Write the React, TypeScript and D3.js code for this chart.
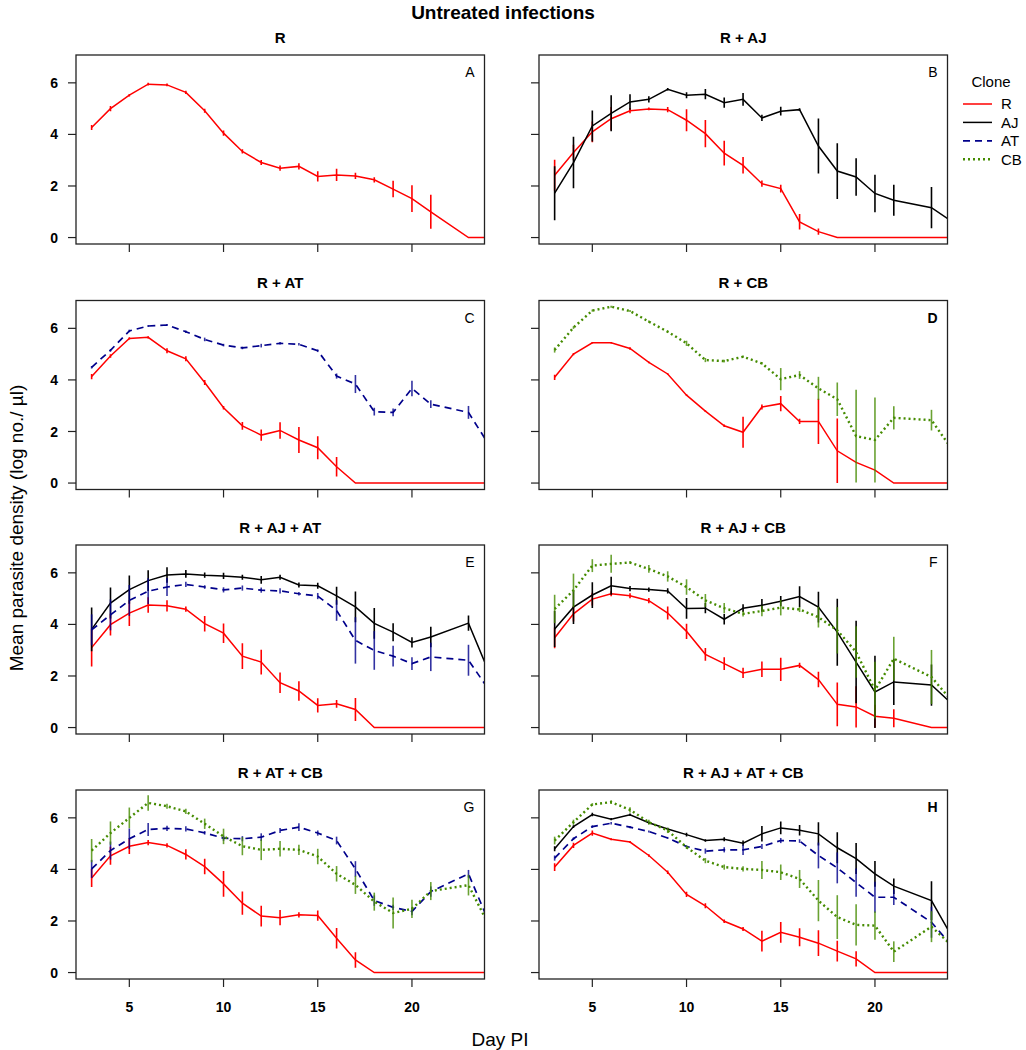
import React from "react";
import * as d3 from "d3";

// days post infection (no sample on day 22)
const days = [3, 4, 5, 6, 7, 8, 9, 10, 11, 12, 13, 14, 15, 16, 17, 18, 19, 20, 21, 23, 24];
const xTicks = [5, 10, 15, 20];
const yTicks = [0, 2, 4, 6];
const clones = ["R", "AJ", "AT", "CB"];

// A: R alone
const A_R = [4.27, 5.0, 5.52, 5.95, 5.92, 5.63, 4.92, 4.05, 3.34, 2.91, 2.69, 2.76, 2.37, 2.43, 2.39, 2.24, 1.88, 1.51, 1.0, 0, 0];
const A_R_se = [0.1, 0.1, 0.05, 0.05, 0.05, 0.06, 0.08, 0.1, 0.08, 0.1, 0.1, 0.12, 0.2, 0.24, 0.12, 0.1, 0.32, 0.52, 0.66, 0, 0];

// B: R + AJ
const B_R = [2.42, 3.3, 4.1, 4.61, 4.92, 4.99, 4.96, 4.55, 4.03, 3.27, 2.8, 2.09, 1.9, 0.61, 0.23, 0, 0, 0, 0, 0, 0];
const B_R_se = [0.6, 0.3, 0.4, 0.45, 0.1, 0.05, 0.1, 0.43, 0.53, 0.48, 0.32, 0.12, 0.15, 0.3, 0.12, 0, 0, 0, 0, 0, 0];
const B_AJ = [1.72, 2.91, 4.33, 4.82, 5.26, 5.36, 5.75, 5.52, 5.56, 5.23, 5.36, 4.64, 4.9, 4.96, 3.55, 2.58, 2.35, 1.71, 1.45, 1.16, 0.66];
const B_AJ_se = [1.05, 1.0, 0.6, 0.7, 0.3, 0.12, 0.05, 0.12, 0.2, 0.2, 0.25, 0.12, 0.17, 0.05, 1.07, 1.08, 0.73, 0.73, 0.6, 0.8, 0];

// C: R + AT
const C_R = [4.13, 4.93, 5.61, 5.65, 5.13, 4.82, 3.9, 2.92, 2.22, 1.86, 2.04, 1.67, 1.37, 0.63, 0, 0, 0, 0, 0, 0, 0];
const C_R_se = [0.1, 0.07, 0.04, 0.04, 0.1, 0.1, 0.1, 0.07, 0.15, 0.22, 0.32, 0.5, 0.45, 0.38, 0, 0, 0, 0, 0, 0, 0];
const C_AT = [4.49, 5.15, 5.9, 6.09, 6.13, 5.87, 5.57, 5.35, 5.24, 5.33, 5.42, 5.38, 5.13, 4.15, 3.84, 2.77, 2.74, 3.67, 3.06, 2.74, 1.58];
const C_AT_se = [0.05, 0.05, 0.05, 0.04, 0.04, 0.05, 0.07, 0.05, 0.05, 0.07, 0.05, 0.05, 0.05, 0.1, 0.35, 0.15, 0.15, 0.3, 0.15, 0.25, 0];

// D: R + CB
const D_R = [4.1, 5.0, 5.44, 5.44, 5.22, 4.68, 4.23, 3.41, 2.79, 2.22, 1.97, 2.95, 3.08, 2.39, 2.39, 1.25, 0.8, 0.5, 0, 0, 0];
const D_R_se = [0.1, 0.04, 0.03, 0.03, 0.05, 0.03, 0.03, 0.03, 0.03, 0.05, 0.6, 0.1, 0.3, 0.1, 0.88, 1.25, 0, 0, 0, 0, 0];
const D_CB = [5.16, 6.03, 6.69, 6.84, 6.67, 6.26, 5.87, 5.42, 4.77, 4.73, 4.9, 4.64, 4.03, 4.19, 3.67, 3.25, 1.82, 1.67, 2.53, 2.44, 1.4];
const D_CB_se = [0.1, 0.05, 0.04, 0.04, 0.04, 0.04, 0.04, 0.1, 0.08, 0.05, 0.04, 0.04, 0.43, 0.15, 0.45, 0.65, 1.8, 1.65, 0.45, 0.4, 0];

// E: R + AJ + AT
const E_R = [3.1, 3.99, 4.44, 4.75, 4.72, 4.59, 4.03, 3.66, 2.77, 2.54, 1.74, 1.42, 0.86, 0.92, 0.7, 0, 0, 0, 0, 0, 0];
const E_R_se = [0.73, 0.42, 0.5, 0.3, 0.22, 0.1, 0.3, 0.38, 0.5, 0.48, 0.4, 0.38, 0.28, 0.15, 0.45, 0, 0, 0, 0, 0, 0];
const E_AJ = [3.81, 4.83, 5.35, 5.7, 5.92, 5.96, 5.91, 5.88, 5.83, 5.73, 5.83, 5.53, 5.5, 5.11, 4.68, 4.04, 3.7, 3.3, 3.51, 4.05, 2.3];
const E_AJ_se = [0.85, 0.6, 0.55, 0.4, 0.3, 0.15, 0.1, 0.12, 0.1, 0.15, 0.1, 0.1, 0.12, 0.35, 0.6, 0.6, 0.35, 0.2, 0.4, 0.3, 0];
const E_AT = [3.79, 4.37, 4.93, 5.29, 5.45, 5.55, 5.45, 5.34, 5.41, 5.33, 5.3, 5.19, 5.1, 4.54, 3.38, 2.99, 2.77, 2.48, 2.74, 2.61, 1.55];
const E_AT_se = [0.6, 0.6, 0.6, 0.5, 0.35, 0.1, 0.07, 0.1, 0.1, 0.1, 0.1, 0.07, 0.12, 0.4, 0.9, 0.75, 0.4, 0.25, 0.55, 0.6, 0];

// F: R + AJ + CB
const F_R = [3.48, 4.41, 4.98, 5.19, 5.11, 4.92, 4.44, 3.73, 2.84, 2.48, 2.12, 2.26, 2.26, 2.41, 1.86, 0.9, 0.8, 0.44, 0.36, 0, 0];
const F_R_se = [0.4, 0.3, 0.25, 0.1, 0.1, 0.1, 0.25, 0.3, 0.25, 0.25, 0.2, 0.3, 0.45, 0.1, 0.3, 0.85, 0.8, 0.44, 0.35, 0, 0];
const F_AJ = [3.82, 4.67, 5.14, 5.5, 5.39, 5.35, 5.3, 4.62, 4.63, 4.2, 4.63, 4.74, 4.9, 5.08, 4.67, 3.7, 2.54, 1.38, 1.77, 1.65, 0.98];
const F_AJ_se = [0.7, 0.65, 0.5, 0.35, 0.1, 0.08, 0.1, 0.4, 0.2, 0.2, 0.15, 0.25, 0.2, 0.4, 0.6, 1.3, 1.6, 1.4, 0.9, 0.8, 0];
const F_CB = [4.6, 5.32, 6.28, 6.35, 6.4, 6.15, 5.86, 5.45, 4.93, 4.63, 4.41, 4.52, 4.65, 4.58, 4.28, 3.77, 2.93, 1.45, 2.67, 1.96, 1.1];
const F_CB_se = [0.55, 0.65, 0.25, 0.35, 0.05, 0.15, 0.2, 0.3, 0.25, 0.2, 0.1, 0.2, 0.3, 0.1, 0.4, 0.9, 1.0, 1.1, 0.85, 1.05, 0];

// G: R + AT + CB
const G_R = [3.67, 4.53, 4.9, 5.04, 4.93, 4.58, 4.11, 3.44, 2.69, 2.19, 2.13, 2.24, 2.21, 1.33, 0.49, 0, 0, 0, 0, 0, 0];
const G_R_se = [0.35, 0.35, 0.3, 0.1, 0.08, 0.2, 0.3, 0.5, 0.45, 0.4, 0.3, 0.1, 0.2, 0.4, 0.3, 0, 0, 0, 0, 0, 0];
const G_AT = [4.02, 4.73, 5.19, 5.55, 5.59, 5.57, 5.42, 5.21, 5.19, 5.25, 5.51, 5.64, 5.41, 5.12, 4.02, 2.79, 2.53, 2.37, 3.14, 3.83, 2.1];
const G_AT_se = [0.35, 0.35, 0.4, 0.25, 0.1, 0.1, 0.07, 0.1, 0.1, 0.15, 0.1, 0.15, 0.1, 0.15, 0.3, 0.2, 0.1, 0.15, 0.2, 0.15, 0];
const G_CB = [4.73, 5.41, 6.0, 6.58, 6.45, 6.25, 5.77, 5.28, 4.9, 4.76, 4.8, 4.76, 4.5, 3.83, 3.4, 2.75, 2.31, 2.47, 3.16, 3.39, 1.95];
const G_CB_se = [0.45, 0.45, 0.4, 0.3, 0.1, 0.1, 0.2, 0.3, 0.35, 0.4, 0.3, 0.2, 0.3, 0.3, 0.35, 0.35, 0.6, 0.35, 0.35, 0.4, 0];

// H: R + AJ + AT + CB
const H_R = [4.09, 4.93, 5.41, 5.17, 5.06, 4.54, 3.89, 3.03, 2.59, 1.99, 1.69, 1.22, 1.56, 1.37, 1.14, 0.83, 0.53, 0, 0, 0, 0];
const H_R_se = [0.15, 0.1, 0.1, 0.04, 0.04, 0.05, 0.07, 0.1, 0.1, 0.07, 0.08, 0.4, 0.4, 0.35, 0.5, 0.4, 0.3, 0, 0, 0, 0];
const H_AJ = [4.8, 5.66, 6.13, 5.95, 6.12, 5.81, 5.57, 5.35, 5.12, 5.17, 5.02, 5.38, 5.61, 5.52, 5.38, 4.84, 4.42, 3.83, 3.35, 2.79, 1.5];
const H_AJ_se = [0.1, 0.05, 0.07, 0.04, 0.05, 0.05, 0.05, 0.07, 0.05, 0.08, 0.1, 0.3, 0.25, 0.2, 0.45, 0.6, 0.6, 0.5, 0.3, 0.75, 0];
const H_AT = [4.44, 5.19, 5.66, 5.79, 5.64, 5.47, 5.22, 4.89, 4.71, 4.76, 4.76, 4.89, 5.12, 5.1, 4.54, 4.06, 3.49, 2.92, 2.92, 1.95, 1.1];
const H_AT_se = [0.1, 0.05, 0.05, 0.05, 0.04, 0.04, 0.04, 0.04, 0.1, 0.1, 0.2, 0.1, 0.1, 0.07, 0.5, 0.6, 0.55, 0.6, 0.3, 0.6, 0];
const H_CB = [5.12, 5.83, 6.52, 6.61, 6.31, 5.83, 5.51, 4.86, 4.34, 4.09, 4.02, 3.98, 3.89, 3.63, 2.79, 2.15, 1.85, 1.82, 0.81, 1.78, 1.1];
const H_CB_se = [0.15, 0.1, 0.05, 0.07, 0.1, 0.1, 0.1, 0.07, 0.1, 0.1, 0.1, 0.35, 0.3, 0.35, 0.8, 0.85, 0.8, 0.55, 0.4, 0.6, 0];

const panels = [
  { title: "R", letter: "A", series: [["R", A_R, A_R_se]] },
  { title: "R + AJ", letter: "B", series: [["R", B_R, B_R_se], ["AJ", B_AJ, B_AJ_se]] },
  { title: "R + AT", letter: "C", series: [["R", C_R, C_R_se], ["AT", C_AT, C_AT_se]] },
  { title: "R + CB", letter: "D", series: [["R", D_R, D_R_se], ["CB", D_CB, D_CB_se]] },
  { title: "R + AJ + AT", letter: "E", series: [["R", E_R, E_R_se], ["AJ", E_AJ, E_AJ_se], ["AT", E_AT, E_AT_se]] },
  { title: "R + AJ + CB", letter: "F", series: [["R", F_R, F_R_se], ["AJ", F_AJ, F_AJ_se], ["CB", F_CB, F_CB_se]] },
  { title: "R + AT + CB", letter: "G", series: [["R", G_R, G_R_se], ["AT", G_AT, G_AT_se], ["CB", G_CB, G_CB_se]] },
  { title: "R + AJ + AT + CB", letter: "H", series: [["R", H_R, H_R_se], ["AJ", H_AJ, H_AJ_se], ["AT", H_AT, H_AT_se], ["CB", H_CB, H_CB_se]] },
];

const style = {
  R: { color: "#ff0000", dash: null, width: 1.5 },
  AJ: { color: "#000000", dash: null, width: 1.5 },
  AT: { color: "#00008b", dash: "7,5", width: 1.7 },
  CB: { color: "#458b00", dash: "2,3", width: 2.4 },
};

const font = "'Liberation Sans', Arial, Helvetica, sans-serif";
const W = 1026;
const H = 1050;
const colX = [76, 539];
const rowY = [55, 300.5, 545, 790];
const pw = 408.5;
const ph = 189;

const x = d3.scaleLinear().domain([2.17, 23.85]).range([0, pw]);
const y = d3.scaleLinear().domain([-0.25, 7.08]).range([ph, 0]);

const Panel = ({ p, i }) => {
  const col = i % 2;
  const row = Math.floor(i / 2);
  const left = colX[col];
  const top = rowY[row];
  const line = d3
    .line()
    .x((d) => x(d[0]))
    .y((d) => y(d[1]));
  const clipId = `clip-${i}`;
  return (
    <g transform={`translate(${left},${top})`}>
      <defs>
        <clipPath id={clipId}>
          <rect x={0} y={0} width={pw} height={ph} />
        </clipPath>
      </defs>
      <text x={pw / 2} y={-12.5} textAnchor="middle" fontWeight="bold" fontSize={15}>
        {p.title}
      </text>
      <g clipPath={`url(#${clipId})`}>
        {p.series.map(([clone, vals, se]) => {
          const s = style[clone];
          const pts = days.map((d, k) => [d, vals[k]]);
          return (
            <g key={clone}>
              {days.map((d, k) =>
                se[k] > 0 ? (
                  <line
                    key={k}
                    x1={x(d)}
                    x2={x(d)}
                    y1={y(vals[k] - se[k])}
                    y2={y(vals[k] + se[k])}
                    stroke={s.color}
                    strokeWidth={1.6}
                    opacity={clone === "R" || clone === "AJ" ? 1 : 0.8}
                  />
                ) : null
              )}
              <path
                d={line(pts)}
                fill="none"
                stroke={s.color}
                strokeWidth={s.width}
                strokeDasharray={s.dash || undefined}
              />
            </g>
          );
        })}
      </g>
      <rect x={0} y={0} width={pw} height={ph} fill="none" stroke="#222" strokeWidth={1.3} />
      {yTicks.map((t) => (
        <g key={t} transform={`translate(0,${y(t)})`}>
          <line x1={-8} x2={0} stroke="#222" strokeWidth={1.2} />
          {col === 0 && (
            <text x={-18} dy="0.36em" textAnchor="end" fontWeight="bold" fontSize={14}>
              {t}
            </text>
          )}
        </g>
      ))}
      {xTicks.map((t) => (
        <g key={t} transform={`translate(${x(t)},${ph})`}>
          <line y1={0} y2={8} stroke="#222" strokeWidth={1.2} />
          {row === 3 && (
            <text y={33} textAnchor="middle" fontWeight="bold" fontSize={14}>
              {t}
            </text>
          )}
        </g>
      ))}
      <text x={pw - 10} y={22} textAnchor="end" fontSize={14}
        fontWeight={p.letter === "D" || p.letter === "H" ? "bold" : "normal"}>
        {p.letter}
      </text>
    </g>
  );
};

export default function App() {
  return (
    <svg
      width={W}
      height={H}
      style={{ position: "absolute", left: 0, top: 0, background: "#fff" }}
      fontFamily={font}
    >
      <rect width={W} height={H} fill="#fff" />
      <text x={503} y={19} textAnchor="middle" fontWeight="bold" fontSize={19}>
        Untreated infections
      </text>
      {panels.map((p, i) => (
        <Panel key={p.letter} p={p} i={i} />
      ))}
      <text x={500} y={1046} textAnchor="middle" fontSize={19}>
        Day PI
      </text>
      <text transform="translate(23,528) rotate(-90)" textAnchor="middle" fontSize={19}>
        Mean parasite density (log no./ µl)
      </text>
      <g transform="translate(963,0)">
        <text x={28} y={87} textAnchor="middle" fontSize={15}>
          Clone
        </text>
        {clones.map((c, k) => {
          const s = style[c];
          const yy = 104 + k * 18.4;
          return (
            <g key={c}>
              <line x1={0} x2={29} y1={yy} y2={yy} stroke={s.color}
                strokeWidth={s.width} strokeDasharray={s.dash || undefined} />
              <text x={38} y={yy} dy="0.36em" fontSize={15}>
                {c}
              </text>
            </g>
          );
        })}
      </g>
    </svg>
  );
}
